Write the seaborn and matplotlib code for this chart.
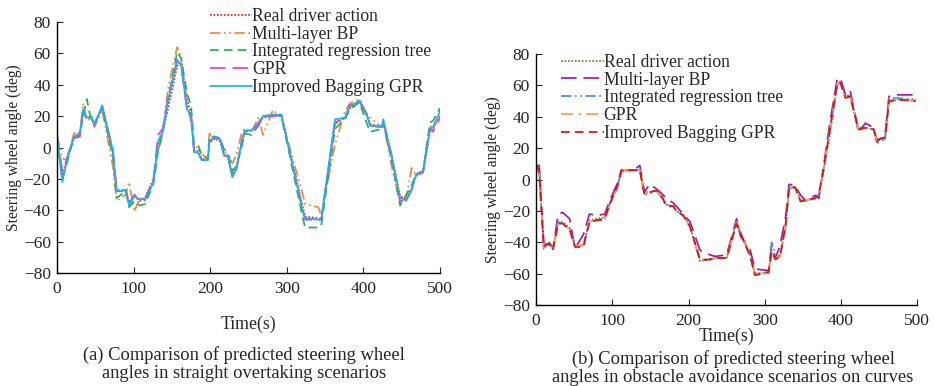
import numpy as np
import pandas as pd
import matplotlib
matplotlib.use("Agg")
import matplotlib.pyplot as plt
import seaborn as sns

# ---------------- data: panel (a) ----------------
time_a = [0, 7, 14, 22, 30, 34, 39, 45, 49, 59, 73, 78, 90, 94, 101, 108, 115, 126, 132, 138,
          145, 157, 162, 170, 175, 179, 184, 189, 197, 199, 206, 213, 218, 223, 229, 234, 241, 245, 254, 263,
          269, 282, 293, 321, 324, 341, 345, 363, 376, 382, 395, 404, 409, 424, 426, 437, 448, 456, 463, 469,
          478, 487, 491, 500]
real_a = [8, -19, -5, 6, 10, 22, 20, 18, 15, 25, -4, -27, -28, -35, -31, -34, -32, -20, 2, 10,
          25, 52, 54, 30, 22, -2, -2, -7, -8, 3, 6, 4, -4, -6, -17, -13, 2, 10, 11, 15,
          19, 20, 21, -38, -44, -45, -46, 15, 19, 25, 30, 22, 15, 13, 17, -5, -31, -33, -26, -18,
          -16, 10, 13, 20]
bp_a = [8, -7, -8, 9, 10, 28, 17, 19, 13, 24, -12, -34, -30, -22, -41, -32, -34, -22, -2, 8,
        38, 64, 58, 28, 16, 0, 0, -4, -7, 9, 4, 6, -2, -4, -10, -5, 9, 12, 10, 19,
        8, 24, 19, -30, -36, -38, -43, 2, 23, 28, 31, 22, 19, 13, 16, -12, -35, -33, -13, -18,
        -15, 14, 12, 20]
tree_a = [6, -20, -8, 6, 8, 20, 31, 16, 15, 26, -6, -32, -28, -38, -34, -37, -36, -23, -2, 9,
          30, 61, 57, 34, 27, 2, 2, -5, -7, 7, 7, 6, -1, -3, -15, -12, 0, 9, 8, 14,
          20, 21, 20, -45, -51, -51, -50, 12, 18, 24, 29, 16, 10, 12, 16, -8, -37, -30, -24, -17,
          -15, 16, 17, 25]
gpr_a = [8, -15, -6, 6, 7, 22, 19, 19, 15, 26, -1, -28, -27, -36, -30, -34, -33, -20, 8, 12,
         32, 56, 52, 23, 20, -2, -3, -8, -8, 4, 6, 5, -5, -6, -18, -15, 4, 10, 11, 14,
         20, 20, 21, -40, -46, -46, -46, 16, 19, 27, 29, 21, 14, 13, 17, -5, -34, -34, -27, -17,
         -15, 12, 10, 19]
ibgpr_a = [8, -22, -6, 7, 9, 24, 19, 20, 14, 27, -2, -28, -27, -37, -31, -33, -33, -22, 4, 10,
           30, 55, 53, 24, 21, -3, -3, -8, -8, 4, 7, 5, -5, -5, -19, -14, 3, 11, 11, 16,
           20, 21, 21, -41, -45, -46, -46, 18, 19, 26, 30, 21, 14, 13, 18, -6, -32, -34, -27, -17,
           -16, 12, 13, 23]

# ---------------- data: panel (b) ----------------
time_b = [0, 4, 10, 14, 18, 22, 29, 35, 44, 51, 62, 70, 79, 90, 97, 106, 112, 128, 136, 142,
          149, 158, 165, 171, 180, 184, 193, 202, 215, 228, 235, 250, 263, 268, 281, 287, 305, 309, 314, 320,
          327, 332, 340, 347, 355, 366, 371, 377, 386, 395, 399, 406, 412, 423, 432, 443, 447, 458, 463, 474,
          498]
real_b = [9, 5, -42, -42, -40, -44, -27, -27, -31, -42, -42, -26, -25, -24, -15, -6, 5, 6, 6, -8,
          -8, -7, -10, -16, -17, -20, -22, -30, -52, -51, -50, -50, -27, -33, -48, -60, -59, -47, -50, -48,
          -31, -6, -5, -13, -13, -12, -9, 5, 30, 60, 63, 53, 54, 33, 33, 32, 26, 27, 49, 51,
          51]
bp_b = [9, 9, -40, -44, -41, -44, -22, -21, -25, -44, -35, -22, -23, -22, -13, -3, 6, 6, 9, -8,
        -3, -6, -9, -12, -15, -17, -22, -27, -45, -48, -49, -48, -25, -36, -45, -57, -58, -42, -50, -42,
        -25, -3, -4, -10, -14, -10, -12, 8, 38, 64, 65, 54, 57, 30, 36, 33, 24, 29, 53, 54,
        54]
tree_b = [8, 4, -45, -42, -40, -44, -27, -29, -31, -42, -42, -27, -26, -26, -15, -6, 6, 6, 6, -10,
          -9, -7, -12, -16, -17, -20, -23, -30, -52, -51, -50, -50, -28, -34, -49, -60, -60, -40, -48, -49,
          -32, -5, -5, -14, -13, -12, -9, 5, 33, 60, 62, 53, 53, 32, 33, 32, 23, 26, 52, 52,
          51]
gpr_b = [9, 5, -43, -41, -41, -44, -28, -28, -32, -42, -42, -27, -26, -25, -16, -6, 6, 6, 6, -9,
         -8, -7, -11, -17, -17, -20, -23, -30, -51, -51, -50, -50, -27, -34, -49, -60, -59, -46, -50, -49,
         -30, -5, -5, -14, -13, -12, -9, 6, 34, 61, 62, 52, 53, 32, 33, 32, 25, 27, 50, 51,
         50]
ibgpr_b = [9, 6, -43, -41, -41, -45, -28, -28, -32, -43, -43, -27, -26, -25, -15, -5, 6, 6, 6, -9,
           -8, -7, -11, -17, -17, -20, -23, -30, -51, -51, -50, -50, -28, -34, -49, -61, -59, -46, -51, -49,
           -30, -5, -5, -14, -13, -12, -9, 6, 34, 61, 62, 52, 53, 32, 33, 32, 25, 27, 50, 51,
           50]

labels = ["Real driver action", "Multi-layer BP", "Integrated regression tree",
          "GPR", "Improved Bagging GPR"]
x_ticks = [0, 100, 200, 300, 400, 500]
y_ticks = [-80, -60, -40, -20, 0, 20, 40, 60, 80]
caption_a = "(a) Comparison of predicted steering wheel\nangles in straight overtaking scenarios"
caption_b = "(b) Comparison of predicted steering wheel\nangles in obstacle avoidance scenarios on curves"

# ---------------- styling ----------------
sns.set_style("ticks")
plt.rcParams['font.family'] = ['Liberation Serif', 'DejaVu Serif']
plt.rcParams['xtick.direction'] = 'in'
plt.rcParams['ytick.direction'] = 'in'

styles_a = [
    dict(color="#ff1a1a", linestyle=(0, (1, 1))),
    dict(color="#f08a3a", linestyle=(0, (6, 2, 1, 2, 1, 2))),
    dict(color="#25b04f", linestyle=(0, (5, 3))),
    dict(color="#e040d8", linestyle=(0, (9, 4))),
    dict(color="#1fb0ef", linestyle="-"),
]
styles_b = [
    dict(color="#6e8b2a", linestyle=(0, (1, 1))),
    dict(color="#a21ca8", linestyle=(0, (9, 4))),
    dict(color="#4c8fe0", linestyle=(0, (6, 2, 1, 2, 1, 2))),
    dict(color="#f4a055", linestyle=(0, (7, 3, 1.5, 3))),
    dict(color="#dd1111", linestyle=(0, (5, 3))),
]

fig = plt.figure(figsize=(9.34, 3.86), dpi=100)
ax1 = fig.add_axes([0.061, 0.2927, 0.410, 0.650])
ax2 = fig.add_axes([0.574, 0.2098, 0.408, 0.650])

series_a = [real_a, bp_a, tree_a, gpr_a, ibgpr_a]
series_b = [real_b, bp_b, tree_b, gpr_b, ibgpr_b]

for ax, t, series, styles in [(ax1, time_a, series_a, styles_a), (ax2, time_b, series_b, styles_b)]:
    for lab, vals, st in zip(labels, series, styles):
        sns.lineplot(x=t, y=vals, ax=ax, label=lab, linewidth=1.25, estimator=None, **st)
    ax.set_xlim(0, 500)
    ax.set_ylim(-80, 80)
    ax.set_xticks(x_ticks)
    ax.set_yticks(y_ticks)
    ax.tick_params(labelsize=12.5, length=4, width=0.8)
    ax.tick_params(axis="x", pad=6)
    ax.tick_params(axis="y", pad=4.5)
    for s in ["top", "right"]:
        ax.spines[s].set_visible(False)
    for s in ["left", "bottom"]:
        ax.spines[s].set_linewidth(1.0)
        ax.spines[s].set_color("black")
    ax.set_ylabel("Steering wheel angle (deg)", fontsize=11.2, labelpad=1.5)

ax1.set_xlabel("Time(s)", fontsize=12.8, labelpad=13)
ax2.set_xlabel("Time(s)", fontsize=12.8, labelpad=-1)

leg_kw = dict(frameon=False, fontsize=12.7, handlelength=2.4, handletextpad=0.0,
              labelspacing=0.04, borderaxespad=0, borderpad=0)
ax1.legend(loc="upper left", bbox_to_anchor=(0.40, 1.056), **leg_kw)
ax2.legend(loc="upper left", bbox_to_anchor=(0.066, 1.001), **leg_kw)

fig.text(244 / 934, 1 - 364 / 386, caption_a, ha="center", va="center", fontsize=13.3, linespacing=1.12)
fig.text(733 / 934, 1 - 368 / 386, caption_b, ha="center", va="center", fontsize=13.3, linespacing=1.12)

fig.savefig("out.png", dpi=100)
